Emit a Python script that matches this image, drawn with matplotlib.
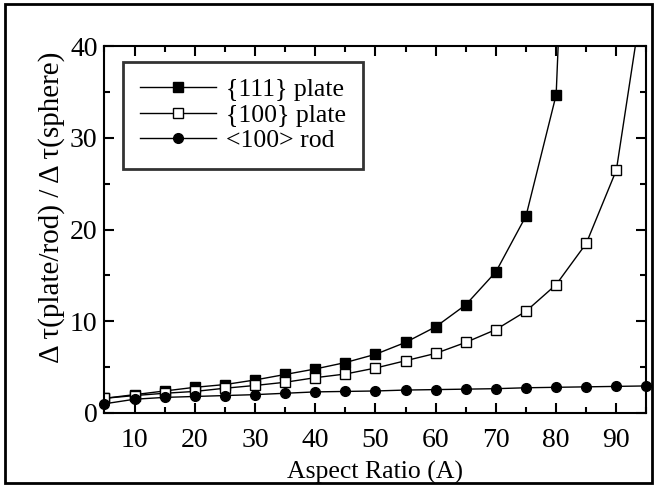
import matplotlib
matplotlib.use("Agg")
import matplotlib.pyplot as plt
from matplotlib.patches import Rectangle
from matplotlib.ticker import MultipleLocator

plt.rcParams['font.family'] = ['Liberation Serif', 'DejaVu Serif']

aspect = [5, 10, 15, 20, 25, 30, 35, 40, 45, 50, 55, 60, 65, 70, 75, 80, 85, 90, 95]
plate111 = [1.6, 2.0, 2.4, 2.8, 3.1, 3.6, 4.2, 4.8, 5.5, 6.4, 7.7, 9.4, 11.8, 15.4, 21.5, 34.7, 115]
plate100 = [1.6, 1.9, 2.15, 2.35, 2.7, 3.0, 3.35, 3.85, 4.25, 4.9, 5.7, 6.5, 7.7, 9.1, 11.1, 14.0, 18.5, 26.5, 48]
rod100 = [1.0, 1.5, 1.7, 1.8, 1.9, 2.0, 2.15, 2.3, 2.35, 2.4, 2.5, 2.55, 2.6, 2.65, 2.75, 2.8, 2.85, 2.9, 2.95]
labels = ['{111} plate', '{100} plate', '<100> rod']

fig = plt.figure(figsize=(6.57, 4.87), dpi=100)
ax = fig.add_axes([0.159, 0.152, 0.825, 0.753])

ax.plot(aspect[:len(plate111)], plate111, '-', color='black', lw=1.0, marker='s', ms=7,
        mfc='black', mec='black', label=labels[0], clip_on=True)
ax.plot(aspect, plate100, '-', color='black', lw=1.0, marker='s', ms=7,
        mfc='white', mec='black', mew=1.0, label=labels[1], clip_on=True)
ax.plot(aspect, rod100, '-', color='black', lw=1.0, marker='o', ms=7,
        mfc='black', mec='black', label=labels[2], clip_on=False)

ax.set_xlim(5, 95)
ax.set_ylim(0, 40)
ax.xaxis.set_major_locator(MultipleLocator(10))
ax.xaxis.set_minor_locator(MultipleLocator(5))
ax.yaxis.set_major_locator(MultipleLocator(10))
ax.yaxis.set_minor_locator(MultipleLocator(5))
ax.set_xticks(range(10, 100, 10))
ax.tick_params(which='both', direction='in', top=True, right=True, width=1.5, labelsize=20)
ax.tick_params(axis='x', which='both', pad=11)
ax.tick_params(axis='y', which='both', pad=5)
ax.tick_params(which='major', length=7)
ax.tick_params(which='minor', length=4)
for s in ax.spines.values():
    s.set_linewidth(1.5)

ax.set_xlabel('Aspect Ratio (A)', fontsize=18.5, labelpad=5.5)
ax.set_ylabel('Δ τ(plate/rod) / Δ τ(sphere)', fontsize=21)
ax.yaxis.set_label_coords(-0.072, 0.561)

leg = ax.legend(loc='upper left', bbox_to_anchor=(0.035, 0.958), frameon=True,
                prop={'family': ['Liberation Serif'], 'size': 18.5},
                fancybox=False, edgecolor='black', handlelength=2.95, borderpad=0.65,
                labelspacing=0.1, handletextpad=0.4, borderaxespad=0)
leg.get_frame().set_linewidth(2)

fig.patches.append(Rectangle((0.008, 0.008), 0.984, 0.984, transform=fig.transFigure,
                             fill=False, edgecolor='black', linewidth=2))

fig.savefig('out.png', dpi=100)
